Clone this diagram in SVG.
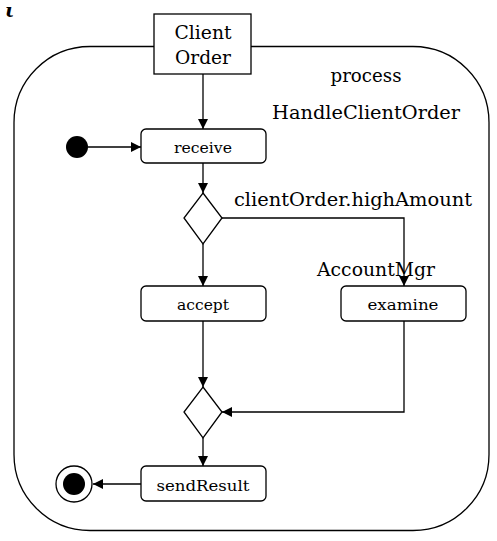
<svg xmlns="http://www.w3.org/2000/svg" width="497" height="541" viewBox="0 0 497 541">
<defs>
<marker id="ah" viewBox="0 0 10 10" refX="10" refY="5" markerWidth="10" markerHeight="10" markerUnits="userSpaceOnUse" orient="auto">
<path d="M0,0 L10,5 L0,10 z" fill="#000"/>
</marker>
<style>
.t{font-family:'DejaVu Serif','Liberation Serif',serif;fill:#000;text-anchor:middle}
.big{font-size:19px}
.sm{font-size:14.5px}
.box{fill:#fff;stroke:#000;stroke-width:1.3}
.ln{fill:none;stroke:#000;stroke-width:1.3}
</style>
</defs>
<rect width="497" height="541" fill="#fff"/>
<text x="5" y="17" font-family="'DejaVu Serif','Liberation Serif',serif" font-size="19" font-style="italic" font-weight="bold">ι</text>
<g id="frame">
<rect x="14" y="46.5" width="475" height="484" rx="76" ry="76" class="ln"/>
<text class="t big" x="366" y="82" textLength="71" lengthAdjust="spacingAndGlyphs">process</text>
<text class="t big" x="366" y="119" textLength="188" lengthAdjust="spacingAndGlyphs">HandleClientOrder</text>
</g>
<g id="connectors">
<line x1="203" y1="74" x2="203" y2="129" class="ln" marker-end="url(#ah)"/>
<line x1="88" y1="147" x2="141" y2="147" class="ln" marker-end="url(#ah)"/>
<line x1="203" y1="163" x2="203" y2="193" class="ln" marker-end="url(#ah)"/>
<polyline points="222,218 404,218 404,286" class="ln" marker-end="url(#ah)"/>
<line x1="203" y1="244" x2="203" y2="286" class="ln" marker-end="url(#ah)"/>
<line x1="203" y1="321" x2="203" y2="387" class="ln" marker-end="url(#ah)"/>
<polyline points="404,321 404,412 222,412" class="ln" marker-end="url(#ah)"/>
<line x1="203" y1="438" x2="203" y2="466" class="ln" marker-end="url(#ah)"/>
<line x1="141" y1="484" x2="93" y2="484" class="ln" marker-end="url(#ah)"/>
<text class="t big" x="353" y="206" textLength="238" lengthAdjust="spacingAndGlyphs">clientOrder.highAmount</text>
<text class="t big" x="376" y="276" textLength="118" lengthAdjust="spacingAndGlyphs">AccountMgr</text>
</g>
<g id="clientOrder">
<rect x="154" y="14" width="97" height="60" class="box"/>
<text class="t big" x="203" y="39" textLength="57" lengthAdjust="spacingAndGlyphs">Client</text>
<text class="t big" x="203" y="64" textLength="56" lengthAdjust="spacingAndGlyphs">Order</text>
</g>
<g id="initial"><circle cx="77" cy="147" r="11" fill="#000"/></g>
<g id="receive">
<rect x="141" y="129" width="125" height="34" rx="5" class="box"/>
<text class="t sm" x="203" y="153" textLength="58" lengthAdjust="spacingAndGlyphs">receive</text>
</g>
<g id="decision1"><polygon points="203,193 222,218 203,244 184,218" class="box"/></g>
<g id="accept">
<rect x="141" y="286" width="125" height="35" rx="5" class="box"/>
<text class="t sm" x="203" y="310" textLength="52" lengthAdjust="spacingAndGlyphs">accept</text>
</g>
<g id="examine">
<rect x="341" y="286" width="125" height="35" rx="5" class="box"/>
<text class="t sm" x="403" y="310" textLength="71" lengthAdjust="spacingAndGlyphs">examine</text>
</g>
<g id="merge"><polygon points="203,387 222,412 203,438 184,412" class="box"/></g>
<g id="sendResult">
<rect x="141" y="466" width="125" height="35" rx="5" class="box"/>
<text class="t sm" x="203" y="491" textLength="93" lengthAdjust="spacingAndGlyphs">sendResult</text>
</g>
<g id="final">
<circle cx="74" cy="484" r="18" fill="#fff" stroke="#000" stroke-width="1.3"/>
<circle cx="74" cy="484" r="11" fill="#000"/>
</g>
</svg>
